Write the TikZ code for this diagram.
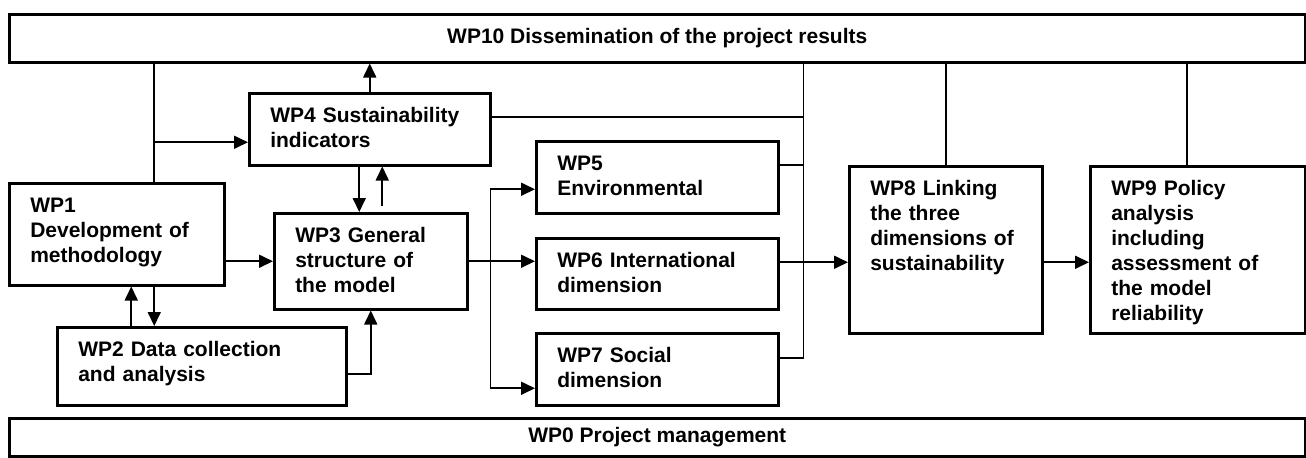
\documentclass[tikz,border=0pt]{standalone}
\usepackage{fontspec}
\setmainfont{Liberation Sans}
\usetikzlibrary{arrows.meta,positioning}

\begin{document}
\begin{tikzpicture}[
  x=0.5pt, y=-0.5pt,
  wp/.style 2 args={draw, line width=1.25pt, anchor=north west, align=left,
    font=\fontsize{10.5}{12.5}\selectfont\bfseries,
    inner xsep=10.5pt, inner ysep=4pt,
    minimum width={#1*0.5pt}, minimum height={#2*0.5pt},
    text width={#1*0.5pt-21pt}, text height=10.75pt,
    text depth={#2*0.5pt-18.75pt}},
  bar/.style={draw, line width=1.25pt, anchor=north west, minimum width=648pt,
    font=\fontsize{10.5}{12.5}\selectfont\bfseries},
  link/.style={line width=0.85pt},
  arr/.style={link, -{Triangle[length=7pt, width=6.5pt]}},
]
  \useasboundingbox (0,0) rectangle (1306,457);

  \node[bar, minimum height=24pt] (wp10) at (8,13) {WP10 Dissemination of the project results};
  \node[bar, minimum height=19pt] (wp0)  at (8,417) {WP0 Project management};

  \node[wp={241}{72}]  (wp4) at (248,92)  {WP4 Sustainability\\indicators};
  \node[wp={215}{102}] (wp1) at (8,182)   {WP1\\Development of\\methodology};
  \node[wp={193}{96}]  (wp3) at (273,212) {WP3 General\\structure of\\the model};
  \node[wp={289}{78}]  (wp2) at (56,326)  {WP2 Data collection\\and analysis};
  \node[wp={242}{72}]  (wp5) at (535,140) {WP5\\Environmental};
  \node[wp={242}{71}]  (wp6) at (535,237) {WP6 International\\dimension};
  \node[wp={242}{72}]  (wp7) at (535,332) {WP7 Social\\dimension};
  \node[wp={193}{167}] (wp8) at (848,165) {WP8 Linking\\the three\\dimensions~of\\sustainability};
  \node[wp={215}{167}] (wp9) at (1089,165) {WP9 Policy\\analysis\\including\\assessment~of\\the model\\reliability};

  % left part: methodology, data, indicators, model
  \coordinate (j1) at ([xshift=18.75pt]wp1.north);
  \coordinate (i4) at ([yshift=-6.5pt]wp4.west);
  \draw[link] (j1) -- (j1 |- wp10.south);
  \draw[arr] (j1 |- i4) -- (i4);
  \draw[arr] (wp4.north) -- (wp4.north |- wp10.south);

  \coordinate (d3) at ([xshift=-5.75pt]wp3.north);
  \coordinate (u3) at ([xshift=5.75pt, yshift=3pt]wp3.north);
  \draw[arr] (d3 |- wp4.south) -- (d3);
  \draw[arr] (u3) -- (u3 |- wp4.south);

  \draw[arr] (wp1.east |- wp3.west) -- (wp3.west);

  \coordinate (u1) at ([xshift=7.25pt]wp1.south);
  \draw[arr] (u1 |- wp2.north) -- (u1);
  \draw[arr] (j1 |- wp1.south) -- (j1 |- wp2.north);
  \draw[arr] ([yshift=-4pt]wp2.east) -| (wp3.south);

  % the three dimensions
  \coordinate (br) at ([xshift=11pt]wp3.east);
  \coordinate (i5) at ([yshift=-6pt]wp5.west);
  \coordinate (i7) at ([yshift=-9.5pt]wp7.west);
  \draw[arr] (wp3.east) -- (wp3.east -| wp6.west);
  \draw[arr] (br |- i7) |- (i5);
  \draw[arr] (br) |- (i7);

  \coordinate (bus) at ([xshift=12pt]wp5.east);
  \coordinate (o4) at ([yshift=6pt]wp4.east);
  \coordinate (o5) at ([yshift=6pt]wp5.east);
  \coordinate (o6) at ([yshift=5.75pt]wp6.east);
  \coordinate (o7) at ([yshift=5.5pt]wp7.east);
  \draw[link] (bus |- wp10.south) -- (bus |- o7) -- (o7);
  \draw[link] (o4) -- (bus |- o4);
  \draw[link] (o5) -- (bus |- o5);
  \draw[arr] (o6) -- (wp8.west |- o6);
  \draw[arr] (wp8.east |- o6) -- (wp9.west |- o6);

  \coordinate (t9) at ([xshift=-5.25pt]wp9.north);
  \draw[link] (wp8.north) -- (wp8.north |- wp10.south);
  \draw[link] (t9) -- (t9 |- wp10.south);
\end{tikzpicture}
\end{document}
